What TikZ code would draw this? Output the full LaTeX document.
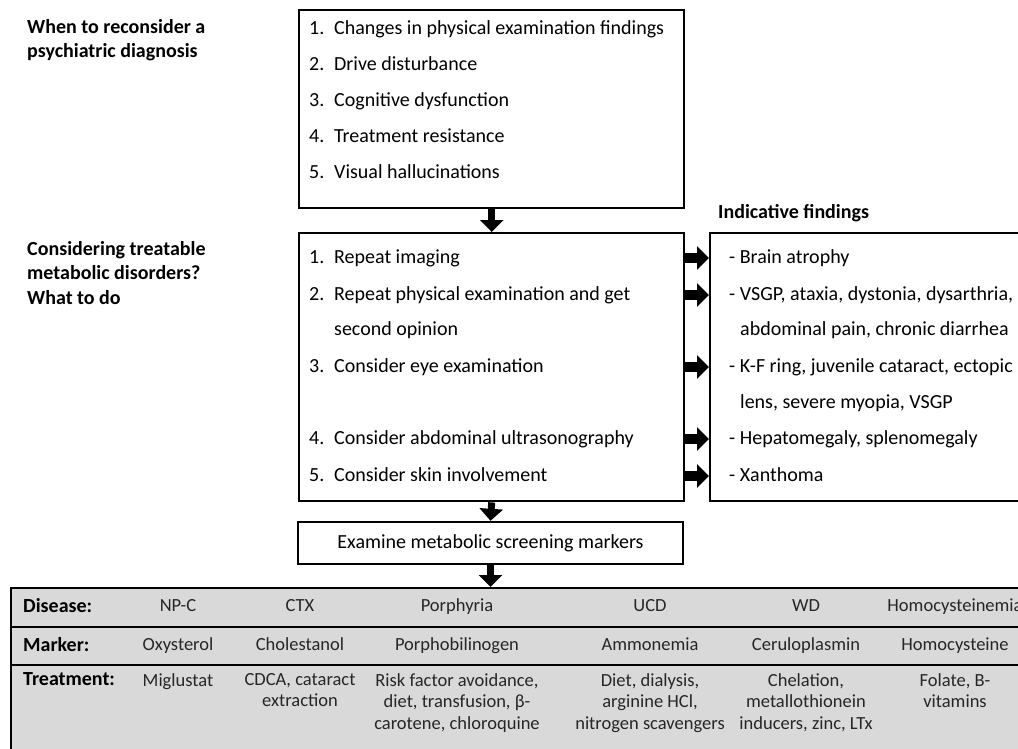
\documentclass[tikz,border=0pt]{standalone}
\usepackage{fontspec}
\setmainfont{Carlito}
\usetikzlibrary{arrows.meta}

\definecolor{tablegray}{RGB}{217,217,217}
\definecolor{celltext}{RGB}{38,38,38}

\tikzset{
  box/.style={draw, line width=2.4pt, inner sep=0pt},
  item/.style={anchor=west, inner sep=0pt, text height=15pt, text depth=4pt, font=\fontsize{20}{24}\selectfont},
  heading/.style={anchor=north west, inner sep=0pt, align=left, font=\fontsize{20}{24.5}\selectfont\bfseries},
  rowlabel/.style={anchor=west, inner sep=0pt, text height=14pt, text depth=4pt, font=\fontsize{20}{24}\selectfont\bfseries},
  cellrow/.style={anchor=center, inner sep=0pt, text height=13pt, text depth=4pt, font=\fontsize{18.5}{21.5}\selectfont, text=celltext},
  cellblock/.style={anchor=north, inner sep=0pt, align=center, font=\fontsize{18.5}{21.5}\selectfont, text=celltext},
  blockdown/.style={line width=7pt, -{Triangle[width=23pt,length=12pt]}},
  blockright/.style={line width=10pt, -{Triangle[width=23pt,length=12pt]}},
}
\newcommand{\nr}[1]{\makebox[25pt][l]{#1}}

\begin{document}
\begin{tikzpicture}[x=1pt, y=-1pt]
\useasboundingbox (0,0) rectangle (1018,749);
\clip (0,0) rectangle (1018,749);

% questions on the left
\node[heading] (q1) at (27,19) {When to reconsider a\\psychiatric diagnosis};
\node[heading] (q2) at (27,241) {Considering treatable\\metabolic disorders?\\What to do};

% boxes
\node[box, anchor=north west, minimum width=385pt, minimum height=198pt] (reasons) at (298,9) {};
\node[box, anchor=north west, minimum width=385pt, minimum height=268pt] (actions) at (298,232) {};
\node[box, anchor=north west, minimum width=350pt, minimum height=268pt] (findings) at (709,232) {};
\node[box, minimum width=385pt, minimum height=42pt, font=\fontsize{20}{24}\selectfont] (screening) at (490.5,543) {Examine metabolic screening markers};

% when to reconsider
\node[item] (r1) at (309,29) {\nr{1.}Changes in physical examination findings};
\node[item] (r2) at (309,65) {\nr{2.}Drive disturbance};
\node[item] (r3) at (309,101) {\nr{3.}Cognitive dysfunction};
\node[item] (r4) at (309,137) {\nr{4.}Treatment resistance};
\node[item] (r5) at (309,173) {\nr{5.}Visual hallucinations};

% what to do
\node[item] (a1) at (309,258) {\nr{1.}Repeat imaging};
\node[item] (a2) at (309,295) {\nr{2.}Repeat physical examination and get};
\node[item] (a2b) at (334,330) {second opinion};
\node[item] (a3) at (309,367) {\nr{3.}Consider eye examination};
\node[item] (a4) at (309,439) {\nr{4.}Consider abdominal ultrasonography};
\node[item] (a5) at (309,476) {\nr{5.}Consider skin involvement};

% indicative findings
\node[heading, anchor=west] (findhead) at (718,213) {Indicative findings};
\node[item] (f1) at (729,258) {- Brain atrophy};
\node[item] (f2) at (729,295) {- VSGP, ataxia, dystonia, dysarthria,};
\node[item] (f2b) at (740,330) {abdominal pain, chronic diarrhea};
\node[item] (f3) at (729,367) {- K-F ring, juvenile cataract, ectopic};
\node[item] (f3b) at (740,403) {lens, severe myopia, VSGP};
\node[item] (f4) at (729,439) {- Hepatomegaly, splenomegaly};
\node[item] (f5) at (729,476) {- Xanthoma};

% table
\node[draw, line width=2.4pt, fill=tablegray, inner sep=0pt, anchor=north west, minimum width=1040pt, minimum height=200pt] (tbl) at (10,587) {};
\draw[line width=2.4pt] (10,627) -- (1050,627);
\draw[line width=2.4pt] (10,665) -- (1050,665);

\node[rowlabel] (disease) at (23,607) {Disease:};
\node[rowlabel] (marker) at (23,646) {Marker:};
\node[rowlabel] (treatment) at (23,680) {Treatment:};

\node[cellrow] (npc) at (178,607) {NP-C};
\node[cellrow] (ctx) at (300,607) {CTX};
\node[cellrow] (porph) at (457,607) {Porphyria};
\node[cellrow] (ucd) at (650,607) {UCD};
\node[cellrow] (wd) at (806,607) {WD};
\node[cellrow] (homoc) at (955,607) {Homocysteinemia};

\node[cellrow] (oxy) at (178,646) {Oxysterol};
\node[cellrow] (chol) at (300,646) {Cholestanol};
\node[cellrow] (pbg) at (457,646) {Porphobilinogen};
\node[cellrow] (ammo) at (650,646) {Ammonemia};
\node[cellrow] (cerulo) at (806,646) {Ceruloplasmin};
\node[cellrow] (homocys) at (955,646) {Homocysteine};

\node[cellblock] (migl) at (178,673) {Miglustat};
\node[cellblock] (cdca) at (300,673) {CDCA, cataract\\extraction};
\node[cellblock] (risk) at (457,673) {Risk factor avoidance,\\diet, transfusion, β-\\carotene, chloroquine};
\node[cellblock] (diet) at (650,673) {Diet, dialysis,\\arginine HCl,\\nitrogen scavengers};
\node[cellblock] (chel) at (806,673) {Chelation,\\metallothionein\\inducers, zinc, LTx};
\node[cellblock] (folate) at (955,673) {Folate, B-\\vitamins};

% arrows
\draw[blockdown] (reasons.south) -- (actions.north);
\draw[blockdown] (actions.south) -- (screening.north);
\draw[blockdown] (screening.south) -- (screening.south |- tbl.north);

\draw[blockright] (actions.east |- f1) -- (findings.west |- f1);
\draw[blockright] (actions.east |- f2) -- (findings.west |- f2);
\draw[blockright] (actions.east |- f3) -- (findings.west |- f3);
\draw[blockright] (actions.east |- f4) -- (findings.west |- f4);
\draw[blockright] (actions.east |- f5) -- (findings.west |- f5);

\end{tikzpicture}
\end{document}
